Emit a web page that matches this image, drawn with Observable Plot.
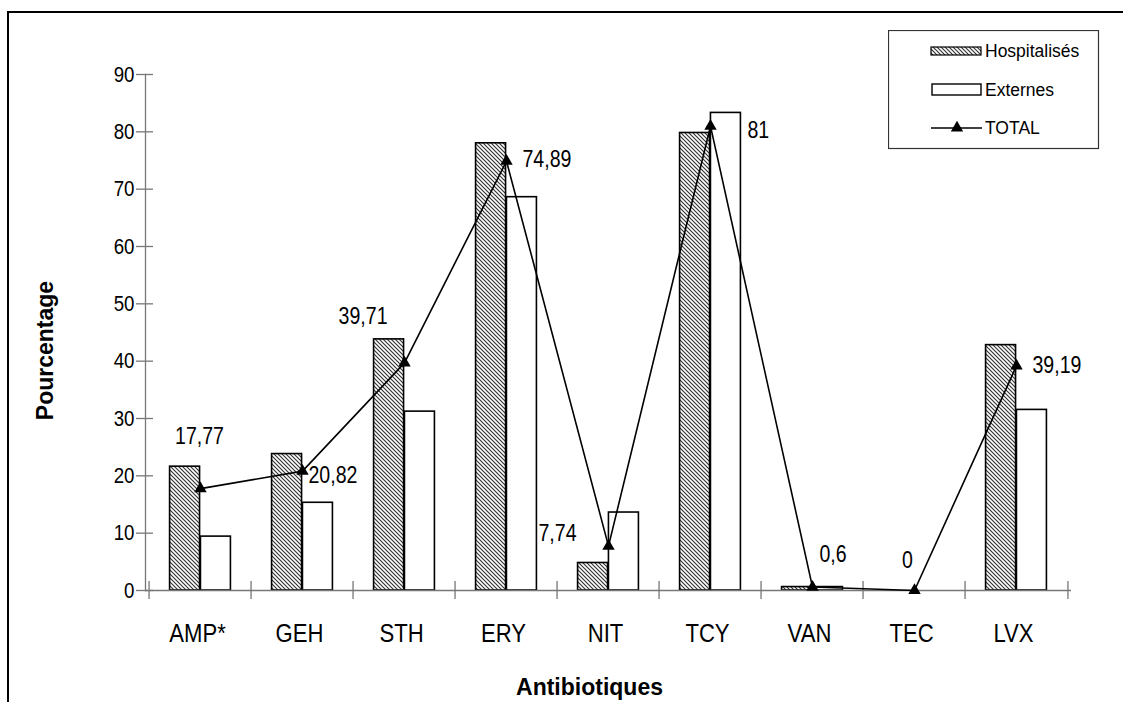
<!DOCTYPE html>
<html>
<head>
<meta charset="utf-8">
<script src="https://cdn.jsdelivr.net/npm/d3@7"></script>
<script src="https://cdn.jsdelivr.net/npm/@observablehq/plot@0.6"></script>
<style>
  html, body { margin: 0; padding: 0; background: #fff; }
  #wrap { position: relative; width: 1123px; height: 702px; overflow: hidden; }
  #border { position: absolute; left: 7px; top: 11px; width: 1130px; height: 700px;
            border-top: 2px solid #000; border-left: 2px solid #000; }
  #legend { position: absolute; left: 888px; top: 30px; }
</style>
</head>
<body>
<div id="wrap"><div id="border"></div></div>
<script>
// ---- data ----
const categories = ["AMP*", "GEH", "STH", "ERY", "NIT", "TCY", "VAN", "TEC", "LVX"];
const hospitalises = [21.6, 23.8, 43.8, 78.0, 4.8, 79.8, 0.6, 0, 42.8];
const externes = [9.4, 15.3, 31.2, 68.6, 13.6, 83.3, 0.6, 0, 31.5];
const total = [17.77, 20.82, 39.71, 74.89, 7.74, 81, 0.6, 0, 39.19];
const totalLabels = ["17,77", "20,82", "39,71", "74,89", "7,74", "81", "0,6", "0", "39,19"];
const yTicks = [0, 10, 20, 30, 40, 50, 60, 70, 80, 90];
const seriesNames = ["Hospitalisés", "Externes", "TOTAL"];

// ---- layout / styling ----
const W = 1123, H = 702;
const mL = 145, mR = 52, mT = 74, mB = 112;
const bw = (W - mL - mR) / categories.length;
const font = "'Liberation Sans', Arial, sans-serif";
const condense = 0.85;

// label placement for the TOTAL values [dx, dy, anchor]
const place = {
  "AMP*": [-1, -52, "middle"], "GEH": [6, 4, "start"], "STH": [-17, -46, "end"],
  "ERY": [16, -2, "start"], "NIT": [-32, -12, "end"], "TCY": [37, 5, "start"],
  "VAN": [7, -32, "start"], "TEC": [-7, -30, "middle"], "LVX": [16, 0, "start"]
};

const rows = categories.map((c, i) => ({cat: c, hosp: hospitalises[i], ext: externes[i], total: total[i], label: totalLabels[i]}));

const labelMarks = rows.map(r => {
  const [dx, dy, anchor] = place[r.cat];
  return Plot.text([r], {x: "cat", y: "total", text: "label", dx, dy, textAnchor: anchor,
    fontSize: 23, fontFamily: font, fill: "#000"});
});

const chart = Plot.plot({
  width: W, height: H,
  marginLeft: mL, marginRight: mR, marginTop: mT, marginBottom: mB,
  x: {type: "band", domain: categories, padding: 0, axis: null},
  y: {domain: [0, 90], axis: null},
  marks: [
    Plot.barY(rows.filter(r => r.hosp > 0), {x: "cat", y: "hosp", fill: "url(#hatch)", stroke: "#000", strokeWidth: 1.6,
      insetLeft: bw * 0.2, insetRight: bw * 0.5}),
    Plot.barY(rows.filter(r => r.ext > 0), {x: "cat", y: "ext", fill: "#fff", stroke: "#000", strokeWidth: 1.6,
      insetLeft: bw * 0.5, insetRight: bw * 0.2}),
    Plot.ruleY([0], {stroke: "#777", strokeWidth: 1.3}),
    Plot.frame({anchor: "left", stroke: "#777", strokeWidth: 1.3}),
    Plot.ruleX(categories, {x: d => d, dx: -bw / 2, y1: -1.55, y2: 1.55, stroke: "#777", strokeWidth: 1.3}),
    Plot.ruleX(categories.slice(-1), {x: d => d, dx: bw / 2, y1: -1.55, y2: 1.55, stroke: "#777", strokeWidth: 1.3}),
    Plot.axisY({ticks: yTicks, tickSize: 17, dx: 8, tickPadding: 2, tickFormat: d => String(d),
      stroke: "#777", strokeWidth: 1.3, fontSize: 22, fontFamily: font, color: "#000", label: null}),
    Plot.axisX({tickSize: 0, tickPadding: 33, dx: -3, fontSize: 26, fontFamily: font, label: null}),
    Plot.line(rows, {x: "cat", y: "total", stroke: "#000", strokeWidth: 1.6}),
    Plot.dot(rows, {x: "cat", y: "total", symbol: "triangle", r: 4.6, fill: "#000", stroke: "none"}),
    ...labelMarks,
    Plot.text(["Pourcentage"], {frameAnchor: "left", textAnchor: "middle", lineAnchor: "middle", dx: -100, dy: 18, rotate: -90,
      fontWeight: "bold", fontSize: 23, fontFamily: font}),
    Plot.text(["Antibiotiques"], {frameAnchor: "bottom", textAnchor: "middle", lineAnchor: "middle", dx: -19, dy: 97,
      fontWeight: "bold", fontSize: 23, fontFamily: font})
  ]
});

const svg = d3.select(chart);
svg.style("position", "absolute").style("left", "0px").style("top", "0px").style("background", "transparent");

function addHatch(sel, id) {
  const p = sel.insert("defs", ":first-child").append("pattern")
    .attr("id", id).attr("patternUnits", "userSpaceOnUse").attr("width", 4).attr("height", 4);
  p.append("rect").attr("width", 4).attr("height", 4).attr("fill", "#fff");
  p.append("path").attr("d", "M-1,-1L5,5M-1,3L1,5M3,-1L5,1").attr("stroke", "#333").attr("stroke-width", 1.15);
}
addHatch(svg, "hatch");
document.getElementById("wrap").appendChild(chart);

// condense the regular-weight texts (the original uses a narrow face)
svg.selectAll("text").each(function () {
  const el = this;
  const g = el.closest("g");
  const fw = el.getAttribute("font-weight") || (g && g.getAttribute("font-weight"));
  if (fw === "bold") return;
  const len = el.getComputedTextLength();
  if (len > 0) {
    el.setAttribute("textLength", len * condense);
    el.setAttribute("lengthAdjust", "spacingAndGlyphs");
  }
});

// legend
const lg = d3.select("#wrap").append("svg").attr("id", "legend").attr("width", 212).attr("height", 120);
addHatch(lg, "hatch2");
lg.append("rect").attr("x", 0.5).attr("y", 0.5).attr("width", 210).attr("height", 118)
  .attr("fill", "#fff").attr("stroke", "#333").attr("stroke-width", 1.2);
lg.append("rect").attr("x", 43).attr("y", 17).attr("width", 50).attr("height", 8)
  .attr("fill", "url(#hatch2)").attr("stroke", "#000").attr("stroke-width", 1.2);
lg.append("rect").attr("x", 44).attr("y", 54).attr("width", 49).attr("height", 11)
  .attr("fill", "#fff").attr("stroke", "#000").attr("stroke-width", 1.4);
lg.append("line").attr("x1", 43).attr("x2", 94).attr("y1", 98).attr("y2", 98).attr("stroke", "#000").attr("stroke-width", 1.4);
lg.append("path").attr("d", d3.symbol(d3.symbolTriangle, Math.PI * 4.6 * 4.6)()).attr("transform", "translate(69,98)").attr("fill", "#000");
const ly = [21, 60, 98];
seriesNames.forEach((s, i) => {
  lg.append("text").attr("x", 97).attr("y", ly[i]).attr("dy", "0.35em").attr("font-size", 17.5)
    .style("font-family", font).attr("fill", "#000").text(s);
});
</script>
</body>
</html>
